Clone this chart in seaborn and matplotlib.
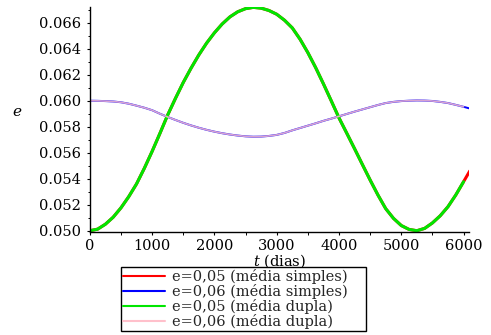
import matplotlib
matplotlib.use("Agg")
import matplotlib.pyplot as plt
import seaborn as sns
from matplotlib.ticker import MultipleLocator, FormatStrFormatter

# ---- data ----
t_dupla = [0, 125, 250, 375, 500, 625, 750, 875, 1000, 1125, 1250, 1375, 1500, 1625,
           1750, 1875, 2000, 2125, 2250, 2375, 2500, 2625, 2750, 2875, 3000, 3125,
           3250, 3375, 3500, 3625, 3750, 3875, 4000, 4125, 4250, 4375, 4500, 4625,
           4750, 4875, 5000, 5125, 5250, 5375, 5500, 5625, 5750, 5875, 6000]
e05_dupla = [0.05000, 0.05012, 0.05050, 0.05104, 0.05176, 0.05262, 0.05360, 0.05480,
             0.05610, 0.05748, 0.05890, 0.06018, 0.06140, 0.06250, 0.06352, 0.06443,
             0.06522, 0.06590, 0.06645, 0.06684, 0.06708, 0.06718, 0.06712, 0.06694,
             0.06665, 0.06619, 0.06560, 0.06473, 0.06370, 0.06255, 0.06130, 0.06000,
             0.05868, 0.05750, 0.05631, 0.05510, 0.05390, 0.05275, 0.05170, 0.05095,
             0.05040, 0.05010, 0.05000, 0.05018, 0.05060, 0.05115, 0.05185, 0.05275,
             0.05377]
e06_dupla = [0.06000, 0.05999, 0.05997, 0.05994, 0.05988, 0.05977, 0.05962, 0.05946,
             0.05927, 0.05900, 0.05875, 0.05852, 0.05830, 0.05810, 0.05792, 0.05776,
             0.05762, 0.05750, 0.05740, 0.05732, 0.05726, 0.05723, 0.05724, 0.05729,
             0.05737, 0.05752, 0.05772, 0.05790, 0.05808, 0.05826, 0.05845, 0.05862,
             0.05880, 0.05898, 0.05916, 0.05933, 0.05950, 0.05967, 0.05982, 0.05991,
             0.05997, 0.06000, 0.06002, 0.06001, 0.05998, 0.05991, 0.05982, 0.05968,
             0.05953]

t_simples = t_dupla + [6100]
e05_simples = e05_dupla + [0.05460]
e06_simples = e06_dupla + [0.05940]

labels = ["e=0,05 (média simples)", "e=0,06 (média simples)",
          "e=0,05 (média dupla)", "e=0,06 (média dupla)"]
colors = ["#ff0000", "#0000ff", "#00e600", "#ffc0cb"]

sns.set_theme(style="ticks")
plt.rcParams["font.family"] = ["DejaVu Serif"]
plt.rcParams["mathtext.fontset"] = "dejavuserif"

fig = plt.figure(figsize=(4.91, 3.35), dpi=100)
ax = fig.add_axes([0.1829, 0.3066, 0.7733, 0.6734])

sns.lineplot(x=t_simples, y=e05_simples, ax=ax, color=colors[0], lw=2.2, label=labels[0])
sns.lineplot(x=t_simples, y=e06_simples, ax=ax, color=colors[1], lw=1.4, label=labels[1])
sns.lineplot(x=t_dupla, y=e05_dupla, ax=ax, color=colors[2], lw=2.2, label=labels[2])
sns.lineplot(x=t_dupla, y=e06_dupla, ax=ax, color=colors[3], lw=1.2, alpha=0.85, label=labels[3])

ax.set_xlim(0, 6095)
ax.set_ylim(0.04988, 0.06723)
ax.xaxis.set_major_locator(MultipleLocator(1000))
ax.xaxis.set_minor_locator(MultipleLocator(500))
ax.yaxis.set_major_locator(MultipleLocator(0.002))
ax.yaxis.set_minor_locator(MultipleLocator(0.001))
ax.yaxis.set_major_formatter(FormatStrFormatter("%.3f"))

for s in ["top", "right"]:
    ax.spines[s].set_visible(False)
for s in ["left", "bottom"]:
    ax.spines[s].set_color("black")
    ax.spines[s].set_linewidth(1.0)

ax.tick_params(axis="both", which="major", direction="out", length=2.5, width=0.8,
               colors="black", labelsize=10.5, pad=2.5)
ax.tick_params(axis="both", which="minor", direction="out", length=1.8, width=0.7,
               colors="black")
ax.tick_params(axis="y", which="major", pad=4)

ax.set_xlabel("$t$ (dias)", fontsize=10.5, labelpad=-0.5, color="black")
ax.set_ylabel("$e$", fontsize=11, rotation=0, labelpad=0, color="black")
ax.yaxis.set_label_coords(-0.19, 0.5)

leg = ax.legend(loc="upper left",
                bbox_to_anchor=(121 / 491, 1 - 270.7 / 335, 244.7 / 491, 0.01),
                bbox_transform=fig.transFigure, mode="expand",
                fontsize=10.5, frameon=True, fancybox=False, shadow=False,
                borderaxespad=0, borderpad=0.12, labelspacing=0.0,
                handlelength=2.9, handletextpad=0.45)
leg.get_frame().set_edgecolor("black")
leg.get_frame().set_linewidth(1.0)
leg.get_frame().set_alpha(1)
for line in leg.get_lines():
    line.set_linewidth(1.5)
    line.set_alpha(1)

fig.savefig("out.png", dpi=100)
